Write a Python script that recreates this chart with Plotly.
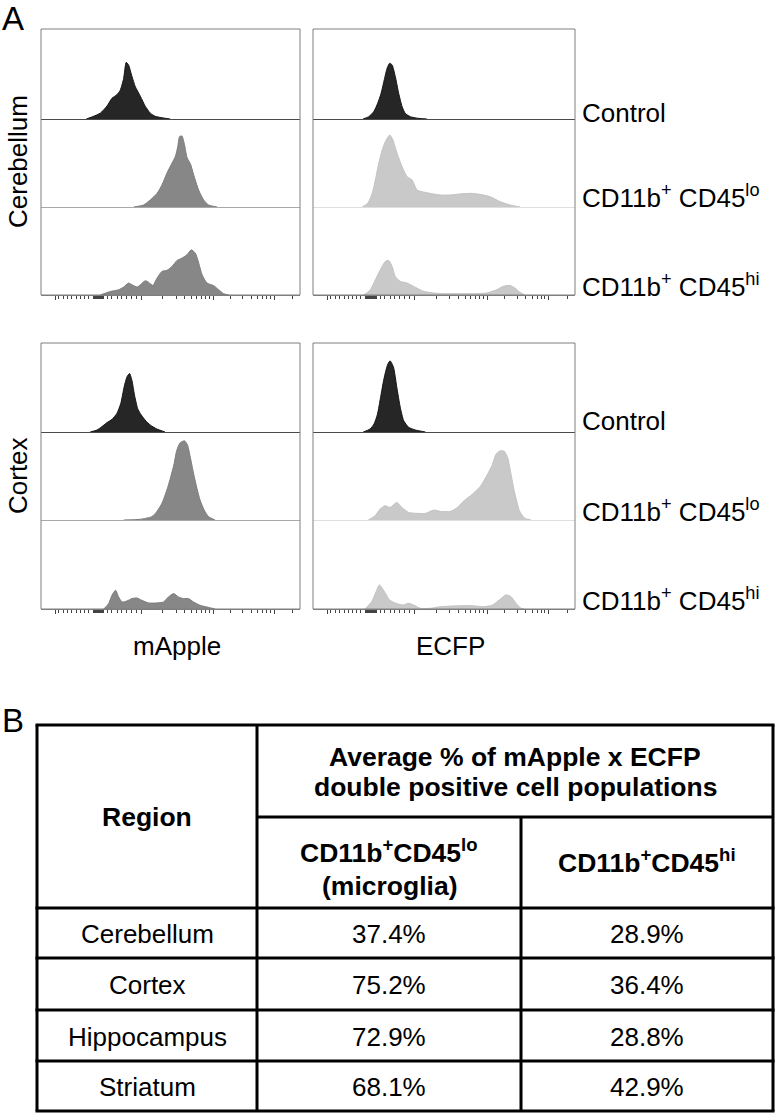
import plotly.graph_objects as go

W, H = 776, 1113
FONT = "Liberation Sans, Arial, sans-serif"

# ---------------- Data: histograms (x = transformed channel 0-1000, y = fraction of row height) -------------
# Cerebellum, mApple
cb_map_ctrl_x = [175, 203, 229, 255, 274, 293, 306, 319, 329, 338, 351, 364, 384, 403, 422, 441, 473, 499]
cb_map_ctrl_y = [0, 0.03, 0.065, 0.145, 0.23, 0.27, 0.32, 0.45, 0.63, 0.60, 0.475, 0.36, 0.25, 0.14, 0.065, 0.03, 0.011, 0]
cb_map_lo_x = [358, 396, 422, 448, 467, 486, 506, 519, 528, 535, 544, 553, 564, 577, 589, 609, 628, 647, 680]
cb_map_lo_y = [0, 0.023, 0.08, 0.155, 0.25, 0.383, 0.5, 0.576, 0.686, 0.8, 0.807, 0.724, 0.56, 0.49, 0.37, 0.19, 0.08, 0.023, 0]
cb_map_hi_x = [229, 268, 300, 319, 338, 351, 371, 384, 403, 416, 432, 448, 467, 486, 506, 525, 544, 564, 580, 596, 609, 622, 641, 667, 686, 705, 725]
cb_map_hi_y = [0, 0.04, 0.06, 0.09, 0.136, 0.117, 0.09, 0.117, 0.162, 0.143, 0.109, 0.192, 0.268, 0.28, 0.325, 0.392, 0.419, 0.457, 0.513, 0.475, 0.362, 0.23, 0.136, 0.106, 0.06, 0.015, 0]
# Cerebellum, ECFP
cb_ecfp_ctrl_x = [191, 213, 232, 247, 260, 272, 283, 293, 302, 314, 327, 340, 352, 371, 403, 435]
cb_ecfp_ctrl_y = [0, 0.026, 0.082, 0.175, 0.286, 0.435, 0.565, 0.62, 0.60, 0.472, 0.286, 0.138, 0.063, 0.026, 0.007, 0]
cb_ecfp_lo_x = [188, 209, 226, 238, 251, 264, 276, 293, 305, 321, 340, 359, 378, 397, 416, 447, 485, 523, 561, 600, 637, 676, 714, 752, 790]
cb_ecfp_lo_y = [0, 0.042, 0.155, 0.307, 0.496, 0.648, 0.742, 0.818, 0.761, 0.61, 0.458, 0.345, 0.307, 0.193, 0.174, 0.155, 0.136, 0.136, 0.148, 0.155, 0.144, 0.117, 0.061, 0.023, 0]
cb_ecfp_hi_x = [194, 219, 238, 257, 276, 289, 302, 314, 333, 359, 384, 422, 460, 498, 549, 612, 663, 701, 726, 752, 771, 790, 809]
cb_ecfp_hi_y = [0, 0.06, 0.174, 0.287, 0.381, 0.392, 0.325, 0.211, 0.155, 0.136, 0.098, 0.042, 0.023, 0.015, 0.015, 0.015, 0.023, 0.06, 0.098, 0.109, 0.079, 0.03, 0]
# Cortex, mApple
cx_map_ctrl_x = [190, 216, 235, 254, 274, 293, 308, 321, 332, 342, 351, 361, 373, 383, 402, 422, 447, 479]
cx_map_ctrl_y = [0, 0.022, 0.06, 0.104, 0.142, 0.209, 0.321, 0.507, 0.619, 0.657, 0.582, 0.414, 0.265, 0.209, 0.134, 0.078, 0.034, 0]
cx_map_lo_x = [319, 383, 428, 447, 467, 486, 501, 514, 524, 537, 554, 566, 576, 589, 602, 614, 630, 647, 672]
cx_map_lo_y = [0, 0.008, 0.038, 0.095, 0.19, 0.34, 0.49, 0.64, 0.79, 0.875, 0.9, 0.85, 0.72, 0.53, 0.36, 0.227, 0.114, 0.038, 0]
cx_map_hi_x = [242, 261, 274, 288, 300, 313, 332, 351, 370, 389, 415, 447, 473, 492, 512, 531, 550, 569, 589, 614, 640, 672]
cx_map_hi_y = [0, 0.06, 0.154, 0.21, 0.135, 0.079, 0.09, 0.117, 0.124, 0.098, 0.068, 0.068, 0.079, 0.135, 0.173, 0.135, 0.117, 0.117, 0.079, 0.042, 0.023, 0]
# Cortex, ECFP
cx_ecfp_ctrl_x = [192, 218, 233, 246, 258, 271, 284, 294, 307, 320, 333, 346, 365, 390, 429]
cx_ecfp_ctrl_y = [0, 0.034, 0.09, 0.2, 0.39, 0.6, 0.75, 0.8, 0.73, 0.5, 0.278, 0.128, 0.053, 0.023, 0]
cx_ecfp_lo_x = [211, 237, 256, 275, 294, 320, 339, 365, 397, 429, 461, 487, 525, 551, 576, 608, 640, 666, 685, 698, 711, 730, 743, 756, 768, 788, 807, 832]
cx_ecfp_lo_y = [0, 0.049, 0.124, 0.162, 0.143, 0.199, 0.143, 0.086, 0.075, 0.075, 0.113, 0.098, 0.098, 0.143, 0.218, 0.293, 0.387, 0.519, 0.632, 0.744, 0.782, 0.782, 0.707, 0.519, 0.331, 0.105, 0.023, 0]
cx_ecfp_hi_x = [198, 224, 241, 253, 273, 292, 317, 343, 365, 384, 410, 448, 487, 538, 602, 653, 685, 711, 736, 756, 775, 794, 807]
cx_ecfp_hi_y = [0, 0.083, 0.195, 0.271, 0.195, 0.102, 0.064, 0.045, 0.064, 0.045, 0.008, 0.008, 0.026, 0.034, 0.038, 0.026, 0.045, 0.102, 0.158, 0.139, 0.064, 0.008, 0]

# axis ticks (biexponential display, channel units)
MAJOR_TICKS = [56, 388, 665, 900]
MINOR_TICKS = [68, 87, 102, 119, 136, 151, 167, 183,
               202, 205, 208, 211, 214, 217, 220, 223, 226, 229, 232, 235, 238, 241,
               256, 273, 295, 312, 331, 350, 367,
               470, 522, 555, 581, 602, 619, 635, 650,
               732, 779, 811, 837, 856, 872, 885, 971]

# labels
REGIONS_A = ["Cerebellum", "Cortex"]
CHANNELS = ["mApple", "ECFP"]
POPULATIONS = ["Control", "CD11b<sup>+</sup> CD45<sup>lo</sup>", "CD11b<sup>+</sup> CD45<sup>hi</sup>"]

# table
table_regions = ["Cerebellum", "Cortex", "Hippocampus", "Striatum"]
pct_microglia = [37.4, 75.2, 72.9, 68.1]
pct_cd45hi = [28.9, 36.4, 28.8, 42.9]
header_main = ["Average % of mApple x ECFP", "double positive cell populations"]
header_sub1 = ["CD11b<sup>+</sup>CD45<sup>lo</sup>", "(microglia)"]
header_sub2 = "CD11b<sup>+</sup>CD45<sup>hi</sup>"
header_region = "Region"

# ---------------- Layout constants (pixels) ----------------
COL_X = [(41, 300), (313, 575)]
PANEL_ROWS = [(29, 119, 207, 295), (343, 432, 520, 609)]
LABEL_X = 580
LABEL_DY = [[6, 10, 10], [11, 10, 10]]

def fx(px):
    return px / W

def fy(py):
    return 1 - py / H

CTRL_FILL, CTRL_LINE, CTRL_BASE = "#262626", "#141414", "#4a4a4a"
MAP_FILL, MAP_LINE, MAP_BASE = "#878787", "#7c7c7c", "#a9a9a9"
ECFP_FILL, ECFP_LINE, ECFP_BASE = "#c9c9c9", "#c2c2c2", "#dedede"
FRAME = "#7f7f7f"

hist = {
    (0, 0): [(cb_map_ctrl_x, cb_map_ctrl_y), (cb_map_lo_x, cb_map_lo_y), (cb_map_hi_x, cb_map_hi_y)],
    (0, 1): [(cb_ecfp_ctrl_x, cb_ecfp_ctrl_y), (cb_ecfp_lo_x, cb_ecfp_lo_y), (cb_ecfp_hi_x, cb_ecfp_hi_y)],
    (1, 0): [(cx_map_ctrl_x, cx_map_ctrl_y), (cx_map_lo_x, cx_map_lo_y), (cx_map_hi_x, cx_map_hi_y)],
    (1, 1): [(cx_ecfp_ctrl_x, cx_ecfp_ctrl_y), (cx_ecfp_lo_x, cx_ecfp_lo_y), (cx_ecfp_hi_x, cx_ecfp_hi_y)],
}

fig = go.Figure()
layout = {}
shapes = []
annotations = []

k = 0
for region_i in range(2):
    rows = PANEL_ROWS[region_i]
    for ch_i in range(2):
        x0, x1 = COL_X[ch_i]
        first_k = k + 1
        for r in range(3):
            k += 1
            xs, ys = hist[(region_i, ch_i)][r]
            if r == 0:
                fill, line, base = CTRL_FILL, CTRL_LINE, CTRL_BASE
            elif ch_i == 0:
                fill, line, base = MAP_FILL, MAP_LINE, MAP_BASE
            else:
                fill, line, base = ECFP_FILL, ECFP_LINE, ECFP_BASE
            fig.add_trace(go.Scatter(
                x=xs, y=ys, mode="lines", fill="tozeroy", fillcolor=fill,
                line=dict(color=line, width=1, shape="spline", smoothing=0.6),
                xaxis=f"x{k}", yaxis=f"y{k}", showlegend=False, hoverinfo="skip"))
            top, bot = rows[r], rows[r + 1]
            xa = dict(domain=[fx(x0), fx(x1)], range=[0, 1000], anchor=f"y{k}",
                      showgrid=False, zeroline=False, showticklabels=False,
                      showline=True, linewidth=1)
            if k != first_k:
                xa["matches"] = f"x{first_k}"
            if r < 2:
                xa.update(linecolor=base, ticks="")
            else:
                xa.update(linecolor=FRAME, ticks="outside", tickvals=MAJOR_TICKS, ticklen=4,
                          tickcolor="#444444", tickwidth=1,
                          minor=dict(tickvals=MINOR_TICKS, ticks="outside", ticklen=2.5,
                                     tickcolor="#444444", tickwidth=1))
            layout[f"xaxis{k}"] = xa
            layout[f"yaxis{k}"] = dict(domain=[fy(bot), fy(top)], range=[0, 1], anchor=f"x{k}",
                                       showgrid=False, zeroline=False, showticklabels=False,
                                       showline=False, ticks="", fixedrange=True)
            if ch_i == 1:
                annotations.append(dict(x=fx(LABEL_X), y=fy(bot - LABEL_DY[region_i][r]),
                                        xref="paper", yref="paper",
                                        text=POPULATIONS[r], showarrow=False, xanchor="left",
                                        yanchor="middle", font=dict(size=26, color="black", family=FONT)))
        # panel frame
        shapes.append(dict(type="rect", xref="paper", yref="paper", x0=fx(x0), x1=fx(x1),
                           y0=fy(rows[3]), y1=fy(rows[0]), line=dict(color=FRAME, width=1),
                           fillcolor="rgba(0,0,0,0)"))
    # region label (rotated)
    annotations.append(dict(x=fx(18), y=fy((rows[0] + rows[3]) / 2), xref="paper", yref="paper",
                            text=REGIONS_A[region_i], showarrow=False, textangle=-90,
                            xanchor="center", yanchor="middle",
                            font=dict(size=26, color="black", family=FONT)))

# channel labels
for ch_i in range(2):
    x0, x1 = COL_X[ch_i]
    annotations.append(dict(x=fx((x0 + x1) / 2 + 6), y=fy(646), xref="paper", yref="paper",
                            text=CHANNELS[ch_i], showarrow=False, xanchor="center", yanchor="middle",
                            font=dict(size=26, color="black", family=FONT)))

# panel letters
annotations.append(dict(x=fx(0), y=fy(19), xref="paper", yref="paper", text="A", showarrow=False,
                        xanchor="left", yanchor="middle", font=dict(size=33, color="black", family=FONT)))
annotations.append(dict(x=fx(0), y=fy(720), xref="paper", yref="paper", text="B", showarrow=False,
                        xanchor="left", yanchor="middle", font=dict(size=33, color="black", family=FONT)))

# ---------------- Table ----------------
T_L, T_C1, T_C2, T_R = 37, 257, 521, 773
T_ROWS = [725, 817, 908, 958, 1010, 1061, 1111]
LW = 3

def hline(y, xa, xb):
    shapes.append(dict(type="line", xref="paper", yref="paper", x0=fx(xa), x1=fx(xb), y0=fy(y), y1=fy(y),
                       line=dict(color="black", width=LW)))

def vline(x, ya, yb):
    shapes.append(dict(type="line", xref="paper", yref="paper", x0=fx(x), x1=fx(x), y0=fy(ya), y1=fy(yb),
                       line=dict(color="black", width=LW)))

hline(T_ROWS[0], T_L - 1.5, T_R + 1.5)
hline(T_ROWS[1], T_C1, T_R)
for yv in T_ROWS[2:]:
    hline(yv, T_L - 1.5, T_R + 1.5)
vline(T_L, T_ROWS[0], T_ROWS[-1])
vline(T_C1, T_ROWS[0], T_ROWS[-1])
vline(T_C2, T_ROWS[1], T_ROWS[-1])
vline(T_R, T_ROWS[0], T_ROWS[-1])

def txt(x, y, s, bold=False):
    annotations.append(dict(x=fx(x), y=fy(y), xref="paper", yref="paper", text=(f"<b>{s}</b>" if bold else s),
                            showarrow=False, xanchor="center", yanchor="middle",
                            font=dict(size=26 if not bold else 26.5, color="black", family=FONT)))

c1 = (T_L + T_C1) / 2
c2 = (T_C1 + T_C2) / 2
c3 = (T_C2 + T_R) / 2
txt(c1, (T_ROWS[0] + T_ROWS[2]) / 2, header_region, bold=True)
txt((T_C1 + T_R) / 2, 757, header_main[0], bold=True)
txt((T_C1 + T_R) / 2, 787, header_main[1], bold=True)
txt(c2, 851, header_sub1[0], bold=True)
txt(c2, 886, header_sub1[1], bold=True)
txt(c3, 861, header_sub2, bold=True)
for i, name in enumerate(table_regions):
    yc = (T_ROWS[2 + i] + T_ROWS[3 + i]) / 2 + 1
    txt(c1, yc, name)
    txt(c2, yc, f"{pct_microglia[i]:.1f}%")
    txt(c3, yc, f"{pct_cd45hi[i]:.1f}%")

fig.update_layout(width=W, height=H, margin=dict(l=0, r=0, t=0, b=0),
                  paper_bgcolor="white", plot_bgcolor="white",
                  shapes=shapes, annotations=annotations, **layout)
fig.write_html("out.html", config={"displayModeBar": False},
               post_script="document.body.style.margin='0px';document.body.style.overflow='hidden';")
